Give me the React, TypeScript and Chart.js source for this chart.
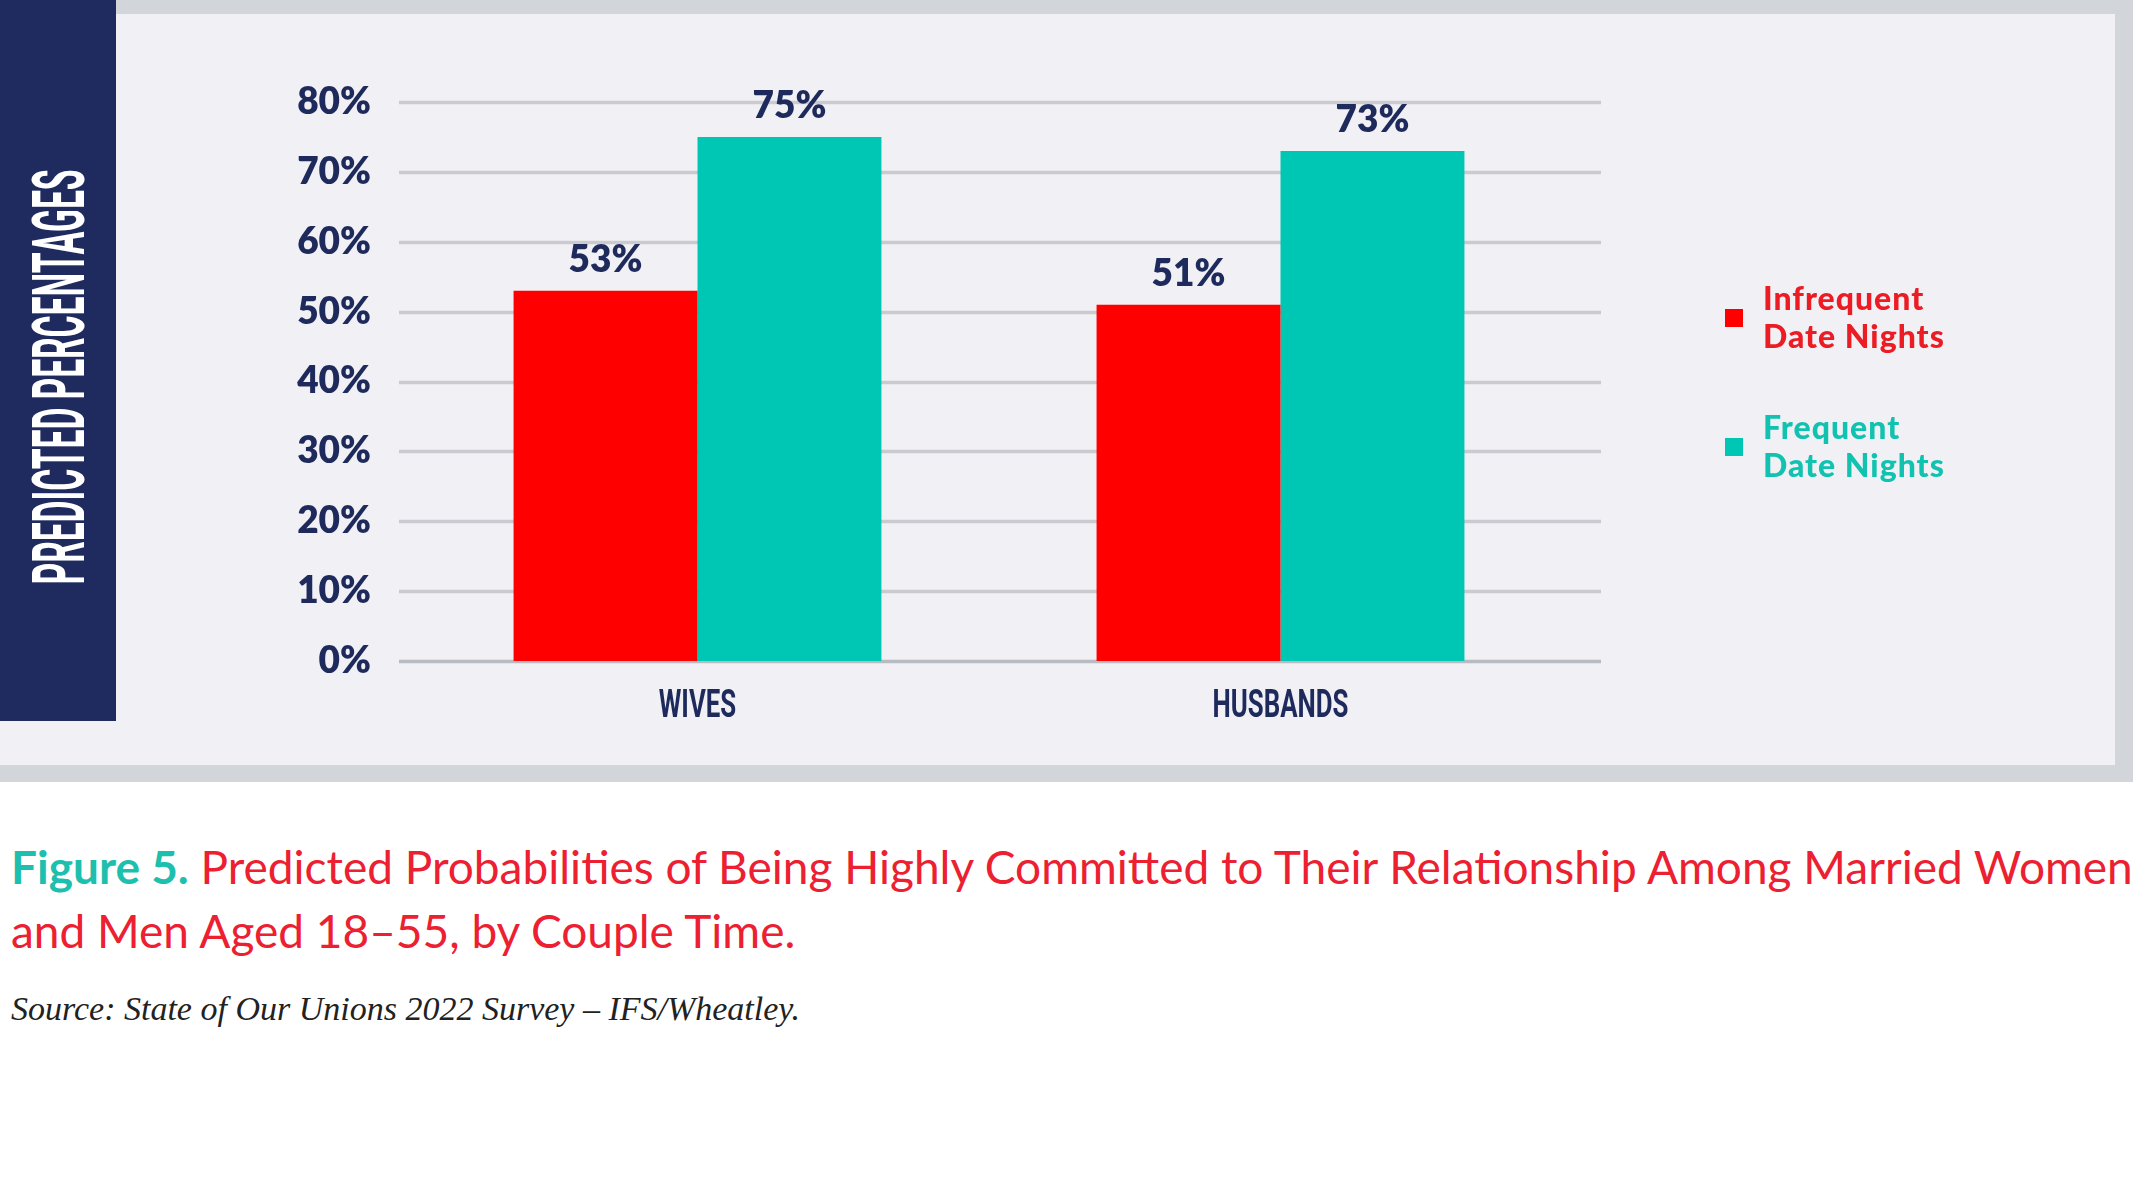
import { useEffect, useRef } from "react";
import { Chart, registerables } from "chart.js";

Chart.register(...registerables);

const groups = ["WIVES", "HUSBANDS"];
const seriesNames = ["Infrequent Date Nights", "Frequent Date Nights"];
const infrequent = [53, 51];
const frequent = [75, 73];
const yTicks = [0, 10, 20, 30, 40, 50, 60, 70, 80];
const yTitle = "PREDICTED PERCENTAGES";

const RED = "#ff0000";
const TEAL = "#00c6b4";
const NAVY = "#1f2a5c";
const GRID = "#c9cbd1";

// grid lines run a little wider than the bar area in the original
const wideGrid = {
  id: "wideGrid",
  beforeDatasetsDraw(chart: any) {
    const { ctx, chartArea } = chart;
    const ys = chart.scales.y;
    ctx.save();
    ctx.lineWidth = 3.5;
    ys.ticks.forEach((t: any) => {
      const y = Math.round(ys.getPixelForValue(t.value)) + 0.5;
      ctx.strokeStyle = t.value === 0 ? "#b9bbc2" : GRID;
      ctx.beginPath();
      ctx.moveTo(chartArea.left - 7, y);
      ctx.lineTo(chartArea.right + 29, y);
      ctx.stroke();
    });
    ctx.restore();
  },
};

const labels = {
  id: "labels",
  afterDatasetsDraw(chart: any) {
    const { ctx, chartArea } = chart;
    ctx.save();
    ctx.fillStyle = NAVY;
    ctx.textAlign = "center";
    ctx.textBaseline = "alphabetic";

    // values over the bars
    ctx.font = "800 37px Lato";
    chart.data.datasets.forEach((ds: any, di: number) => {
      chart.getDatasetMeta(di).data.forEach((bar: any, i: number) => {
        ctx.fillText(`${ds.data[i]}%`, bar.x, bar.y - 19);
      });
    });

    // condensed category labels
    const xs = chart.scales.x;
    ctx.font = "bold 38px Roboto";
    groups.forEach((g, i) => {
      ctx.save();
      ctx.translate(xs.getPixelForTick(i), chartArea.bottom + 56);
      ctx.scale(0.68, 1);
      ctx.fillText(g, 0, 0);
      ctx.restore();
    });

    // rotated axis title in the navy bar
    ctx.fillStyle = "#ffffff";
    ctx.font = "bold 72px Roboto";
    const w = ctx.measureText(yTitle).width;
    ctx.translate(84, 377);
    ctx.rotate(-Math.PI / 2);
    ctx.scale(415 / w, 1);
    ctx.fillText(yTitle, 0, 0);
    ctx.restore();
  },
};

export default function App() {
  const canvasRef = useRef<HTMLCanvasElement>(null);

  useEffect(() => {
    if (!canvasRef.current) return;
    const chart = new Chart(canvasRef.current, {
      type: "bar",
      data: {
        labels: groups,
        datasets: [
          { label: seriesNames[0], data: infrequent, backgroundColor: RED },
          { label: seriesNames[1], data: frequent, backgroundColor: TEAL },
        ],
      },
      options: {
        animation: false,
        responsive: true,
        maintainAspectRatio: false,
        layout: { padding: { left: 0, right: 561, top: 102, bottom: 61 } },
        datasets: {
          bar: { barPercentage: 1, categoryPercentage: 0.631, borderWidth: 0 },
        },
        plugins: { legend: { display: false }, tooltip: { enabled: false } },
        scales: {
          x: {
            grid: { display: false },
            border: { display: false },
            ticks: { display: false },
            afterFit: (s: any) => {
              s.height = 60;
            },
          },
          y: {
            min: 0,
            max: 80,
            grid: { display: false, drawTicks: false },
            border: { display: false },
            afterBuildTicks: (s: any) => {
              s.ticks = yTicks.map((v) => ({ value: v }));
            },
            afterFit: (s: any) => {
              s.width = 406;
            },
            ticks: {
              padding: 35,
              color: NAVY,
              font: { family: "Lato", size: 37, weight: 800 },
              callback: (v: any) => v + "%",
            },
          },
        },
      },
      plugins: [wideGrid, labels],
    });
    return () => chart.destroy();
  }, []);

  const legendColors = [RED, TEAL];
  const legendText = ["#ec1c24", "#12c2b0"];

  return (
    <div style={{ position: "absolute", left: 0, top: 0, width: 2133, height: 1200, background: "#fff", overflow: "hidden" }}>
      <div style={{ position: "absolute", left: 0, top: 0, width: 2133, height: 782, background: "#d2d5da" }} />
      <div style={{ position: "absolute", left: 0, top: 14, width: 2115, height: 751, background: "#f1f1f5" }} />
      <div style={{ position: "absolute", left: 0, top: 0, width: 116, height: 721, background: "#1f2b5e" }} />
      <div style={{ position: "absolute", left: 0, top: 0, width: 2133, height: 782 }}>
        <canvas ref={canvasRef} role="img" aria-label="Bar chart of predicted percentages of wives and husbands highly committed, by date night frequency" />
      </div>
      {seriesNames.map((name, i) => {
        const [first, rest] = name.split(/ (?=Date)/);
        return (
          <div key={name}>
            <div style={{ position: "absolute", left: 1725, top: 309 + i * 129, width: 18, height: 18, background: legendColors[i] }} />
            <div
              style={{
                position: "absolute",
                left: 1763,
                top: 279 + i * 129,
                font: "900 32px/38px Lato",
                letterSpacing: 1,
                color: legendText[i],
                whiteSpace: "nowrap",
              }}
            >
              {first}
              <br />
              {rest}
            </div>
          </div>
        );
      })}
      <div style={{ position: "absolute", left: 11, top: 835, font: "400 46px/64px Lato", color: "#ec2030", whiteSpace: "nowrap" }}>
        <span style={{ color: "#1dbfae", fontWeight: 700 }}>Figure 5.</span> Predicted Probabilities of Being Highly Committed to Their Relationship Among Married Women
        <br />
        and Men Aged 18–55, by Couple Time.
      </div>
      <div style={{ position: "absolute", left: 11, top: 991, font: "italic 34px/35px 'Liberation Serif'", color: "#222", whiteSpace: "nowrap" }}>
        Source: State of Our Unions 2022 Survey – IFS/Wheatley.
      </div>
    </div>
  );
}
